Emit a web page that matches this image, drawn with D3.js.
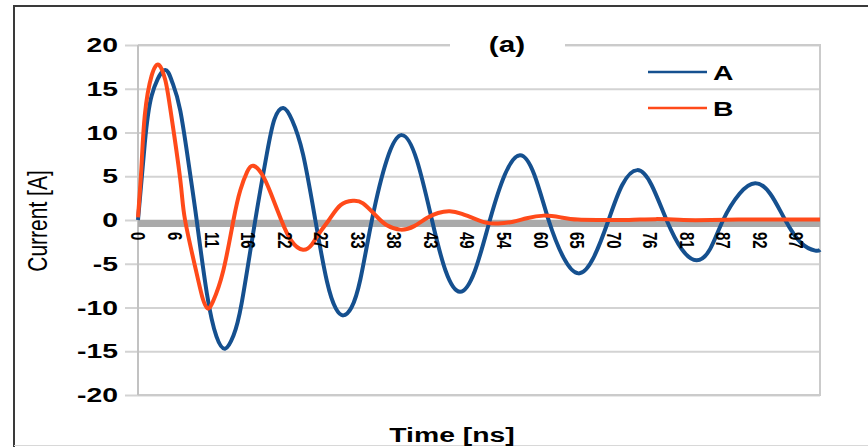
<!DOCTYPE html>
<html>
<head>
<meta charset="utf-8">
<title>Current vs time</title>
<script src="https://cdn.jsdelivr.net/npm/d3@7"></script>
<style>
  body { margin: 0; background: #fff; }
</style>
</head>
<body>
<div id="chart"></div>
<script>
// Values (time in ns, current in A)
const timeA = [0, 1.0, 2.0, 3.8, 5.0, 6.2, 7.6, 8.6, 10.1, 11.5, 12.8, 14.0, 15.2, 17.2, 18.9, 20.0, 21.3, 22.6, 24.2, 26.0,
  27.7, 29.0, 30.1, 31.3, 32.6, 34.3, 36.5, 38.7, 40.9, 43.1, 45.1, 47.2, 49.4, 51.6, 53.8, 56.0, 58.1, 60.2,
  62.4, 64.6, 66.8, 69.0, 71.0, 73.2, 75.3, 77.5, 79.7, 81.9, 83.9, 85.8, 88.2, 90.5, 92.7, 94.9, 97.2, 99.3, 100];
const currentA = [0, 8.8, 14.2, 17.1, 15.8, 12.5, 5.5, 0, -8.4, -13.3, -14.7, -13.2, -9.5, 0, 7.6, 11.5, 12.8, 11.4, 7.5, 0,
  -7.0, -10.1, -10.9, -10.0, -6.8, 0, 6.9, 9.7, 6.8, 0, -5.8, -8.2, -5.8, 0, 5.2, 7.4, 5.2, 0,
  -4.3, -6.1, -4.3, 0, 4.0, 5.7, 4.0, 0, -3.3, -4.6, -3.3, 0, 3.0, 4.2, 3.0, 0, -2.6, -3.5, -3.4];

const timeB = [0, 0.5, 1.0, 2.0, 3.1, 4.0, 4.7, 6.2, 6.9, 8.6, 9.5, 10.2, 11.0, 12.5, 14.0, 15.0, 16.0, 16.9, 18.2, 19.5,
  21.0, 22.5, 24.2, 25.5, 26.5, 28.0, 29.7, 31.5, 33.0, 35.0, 36.5, 38.5, 40.5, 42.3, 44.0, 45.7, 47.5,
  49.5, 51.0, 52.8, 55, 57, 59.5, 62, 64.5, 68, 72, 76, 80, 84, 88, 92, 96, 100];
const currentB = [0.3, 6, 12, 16.5, 17.7, 16, 12.9, 4.6, 0, -6.1, -9.0, -10.1, -9.3, -5.8, 0, 3.4, 5.5, 6.2, 5.2, 3.0,
  0, -2.4, -3.4, -2.8, -1.6, 0, 1.7, 2.2, 1.9, 0.4, -0.6, -1.1, -0.7, 0.2, 0.8, 1.0, 0.7,
  0.1, -0.3, -0.4, -0.2, 0.2, 0.5, 0.3, 0.05, 0, 0, 0.1, 0, 0, 0.05, 0.05, 0.05, 0.05];

const yTicks = [-20, -15, -10, -5, 0, 5, 10, 15, 20];
const xTickLabels = ["0", "6", "11", "16", "22", "27", "33", "38", "43", "49", "54", "60", "65", "70", "76", "81", "87", "92", "97"];
const tickStep = 5.36; // ns between labelled categories

const series = [
  { name: "A", time: timeA, current: currentA, color: "#15508f" },
  { name: "B", time: timeB, current: currentB, color: "#ff4a1a" }
];

// Dimensions
const W = 868, H = 447;
const plotLeft = 138, plotRight = 820, plotTop = 45, plotBottom = 395;
const sx = 1.35; // the picture is stretched horizontally
const font = "'Liberation Sans', Arial, sans-serif";

const svg = d3.select("#chart").append("svg")
  .attr("width", W).attr("height", H);

svg.append("rect").attr("width", W).attr("height", H).attr("fill", "#fff");

// Outer frame
svg.append("path").attr("d", `M14,${H} V6 H${W}`)
  .attr("fill", "none").attr("stroke", "#3a3a3a").attr("stroke-width", 2);
svg.append("line").attr("x1", 14).attr("x2", W).attr("y1", H - 1.5).attr("y2", H - 1.5)
  .attr("stroke", "#d8d8d8").attr("stroke-width", 1);

// Scales
const x = d3.scaleLinear().domain([0, 100]).range([plotLeft, plotRight]);
const y = d3.scaleLinear().domain([-20, 20]).range([plotBottom, plotTop]);

// Y axis + gridlines
const yAxis = svg.append("g")
  .attr("transform", `translate(${plotLeft},0)`)
  .call(d3.axisLeft(y).tickValues(yTicks).tickFormat(d => String(d)).tickSize(0).tickPadding(0));
yAxis.select(".domain").remove();
yAxis.selectAll(".tick line")
  .attr("x1", -13).attr("x2", plotRight - plotLeft)
  .attr("stroke", "#d3d3d3").attr("stroke-width", 2);
yAxis.selectAll(".tick text")
  .attr("x", null)
  .attr("transform", `translate(-20,0) scale(${sx},1)`)
  .attr("text-anchor", "end")
  .style("font", `bold 21px ${font}`)
  .attr("fill", "#000");

// Plot border
svg.append("path")
  .attr("d", `M${plotLeft},${plotTop} H${plotRight} V${plotBottom} H${plotLeft}`)
  .attr("fill", "none").attr("stroke", "#cbcbcb").attr("stroke-width", 2);
svg.append("line")
  .attr("x1", plotLeft).attr("x2", plotLeft).attr("y1", plotTop).attr("y2", plotBottom)
  .attr("stroke", "#c2c2c2").attr("stroke-width", 2);

// Thick horizontal axis at zero
svg.append("rect")
  .attr("x", plotLeft).attr("y", y(0))
  .attr("width", plotRight - plotLeft).attr("height", 7)
  .attr("fill", "#aaaaaa");

// Title box "(a)"
svg.append("rect").attr("x", 450).attr("y", 30).attr("width", 115).attr("height", 28).attr("fill", "#fff");
svg.append("text")
  .attr("transform", `translate(507,52) scale(${sx},1)`)
  .attr("text-anchor", "middle")
  .style("font", `bold 22px ${font}`)
  .text("(a)");

// Lines
const line = d3.line()
  .x(d => x(d[0]))
  .y(d => y(d[1]))
  .curve(d3.curveNatural);

svg.selectAll(".serie")
  .data(series)
  .enter().append("path")
  .attr("class", "serie")
  .attr("d", s => line(s.time.map((t, i) => [t, s.current[i]])))
  .attr("fill", "none")
  .attr("stroke", s => s.color)
  .attr("stroke-width", 4)
  .attr("stroke-linejoin", "round");

// X axis labels (rotated)
const xAxis = svg.append("g")
  .attr("transform", `translate(0,${y(0)})`)
  .call(d3.axisBottom(x)
    .tickValues(xTickLabels.map((_, i) => i * tickStep))
    .tickFormat((d, i) => xTickLabels[i])
    .tickSize(0).tickPadding(0));
xAxis.select(".domain").remove();
xAxis.selectAll(".tick line").remove();
xAxis.selectAll(".tick text")
  .attr("y", null)
  .attr("dy", "0.35em")
  .attr("transform", `translate(0,12) scale(${sx},1) rotate(90)`)
  .attr("text-anchor", "start")
  .style("font", `bold 15px ${font}`)
  .attr("fill", "#000");

// Legend
const legend = svg.append("g");
series.forEach((s, i) => {
  const ly = 72 + i * 36;
  legend.append("line")
    .attr("x1", 648).attr("x2", 707).attr("y1", ly).attr("y2", ly)
    .attr("stroke", s.color).attr("stroke-width", 2.5);
  legend.append("text")
    .attr("transform", `translate(713,${ly}) scale(${sx},1)`)
    .attr("dy", "0.36em")
    .style("font", `bold 21px ${font}`)
    .text(s.name);
});

// Axis titles
svg.append("text")
  .attr("transform", `translate(37,221) scale(${sx},1) rotate(-90)`)
  .attr("text-anchor", "middle")
  .attr("dy", "0.35em")
  .style("font", `21px ${font}`)
  .text("Current [A]");

svg.append("text")
  .attr("transform", `translate(452,442) scale(${sx},1)`)
  .attr("text-anchor", "middle")
  .style("font", `bold 21px ${font}`)
  .text("Time [ns]");
</script>
</body>
</html>
